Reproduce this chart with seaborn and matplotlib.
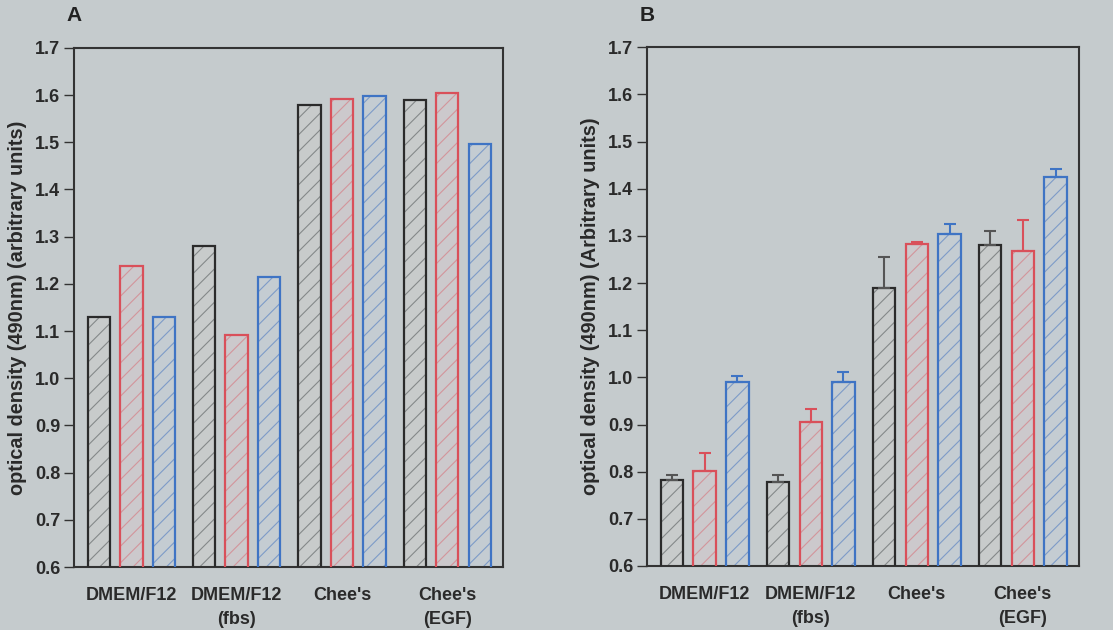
import matplotlib
matplotlib.use("Agg")
import matplotlib.pyplot as plt
import seaborn as sns
import pandas as pd

# ---------------- data ----------------
media = ["DMEM/F12", "DMEM/F12\n(fbs)", "Chee's", "Chee's\n(EGF)"]
series = ["S1", "S2", "S3"]

a_s1 = [1.13, 1.28, 1.58, 1.59]
a_s2 = [1.238, 1.092, 1.592, 1.604]
a_s3 = [1.13, 1.215, 1.599, 1.497]

b_s1 = [0.782, 0.779, 1.190, 1.280]
b_s2 = [0.801, 0.905, 1.283, 1.269]
b_s3 = [0.990, 0.991, 1.303, 1.425]

b_err_s1 = [0.010, 0.014, 0.065, 0.030]
b_err_s2 = [0.039, 0.027, 0.003, 0.065]
b_err_s3 = [0.012, 0.020, 0.022, 0.016]

yticks = [0.6, 0.7, 0.8, 0.9, 1.0, 1.1, 1.2, 1.3, 1.4, 1.5, 1.6, 1.7]

# ---------------- style ----------------
bg = "#c5cbcd"
fills = ["#c8cbcb", "#ccc8cc", "#c2ccd4"]
edges = ["#2b2b2b", "#d9505a", "#3f74c4"]
hatch_cols = ["#85898a", "#d3959b", "#7d9bc8"]
err_cols = ["#555555", "#d9505a", "#3f74c4"]

sns.set_style("ticks")
plt.rcParams["font.family"] = ["Liberation Sans", "DejaVu Sans"]
plt.rcParams["font.weight"] = "bold"
plt.rcParams["axes.labelweight"] = "bold"
plt.rcParams["hatch.linewidth"] = 0.8


def make_df(s1, s2, s3):
    rows = []
    for vals, s in zip([s1, s2, s3], series):
        for m, v in zip(media, vals):
            rows.append({"medium": m, "series": s, "od": v})
    return pd.DataFrame(rows)


def draw_panel(ax, df, errs, ylabel, letter):
    ax.set_facecolor(bg)
    n0 = len(ax.containers)
    sns.barplot(data=df, x="medium", y="od", hue="series", order=media,
                hue_order=series, palette=fills, width=0.925, gap=0.31,
                errorbar=None, legend=False, ax=ax, zorder=2)
    for cont, hc in zip(ax.containers[n0:], hatch_cols):
        for p in cont.patches:
            p.set_hatch("//")
            p.set_edgecolor(hc)
            p.set_linewidth(0)
    n1 = len(ax.containers)
    sns.barplot(data=df, x="medium", y="od", hue="series", order=media,
                hue_order=series, palette=edges, width=0.925, gap=0.31,
                errorbar=None, legend=False, fill=False, linewidth=1.6,
                ax=ax, zorder=3)
    conts = ax.containers[n1:]
    for cont, ec in zip(conts, edges):
        for p in cont.patches:
            p.set_edgecolor(ec)
            p.set_facecolor("none")
            p.set_linewidth(1.6)
    if errs is not None:
        for cont, e, c in zip(conts, errs, err_cols):
            xs = [p.get_x() + p.get_width() / 2 for p in cont.patches]
            ys = [p.get_height() for p in cont.patches]
            ax.errorbar(xs, ys, yerr=[[0] * len(e), e], fmt="none",
                        ecolor=c, elinewidth=1.5, capsize=4.5,
                        capthick=1.5, zorder=4)
    ax.set_ylim(0.6, 1.7)
    ax.set_xlim(-0.545, 3.53)
    ax.set_yticks(yticks)
    ax.set_yticklabels([f"{t:.1f}" for t in yticks])
    ax.tick_params(axis="y", direction="out", length=7, width=1,
                   colors="#333333", labelcolor="#2a2a2a", labelsize=13, pad=3)
    ax.tick_params(axis="x", length=0, labelsize=13, labelcolor="#2a2a2a",
                   pad=14.5)
    for lab in ax.get_xticklabels() + ax.get_yticklabels():
        lab.set_fontweight("bold")
    for lab in ax.get_xticklabels():
        lab.set_linespacing(1.5)
    ax.set_xlabel("")
    ax.set_ylabel(ylabel, fontsize=14.3, color="#2a2a2a", labelpad=6)
    for sp in ax.spines.values():
        sp.set_visible(True)
        sp.set_linewidth(1.5)
        sp.set_color("#333333")
    ax.text(-0.018, 1.062, letter, transform=ax.transAxes, fontsize=15,
            fontweight="bold", color="#222222", ha="left", va="center")


fig = plt.figure(figsize=(11.13, 6.30), dpi=100, facecolor=bg)
axA = fig.add_axes([0.0665, 0.100, 0.3855, 0.824])
axB = fig.add_axes([0.5813, 0.1016, 0.3882, 0.8234])

draw_panel(axA, make_df(a_s1, a_s2, a_s3), None,
           "optical density (490nm) (arbitrary units)", "A")
draw_panel(axB, make_df(b_s1, b_s2, b_s3), [b_err_s1, b_err_s2, b_err_s3],
           "optical density (490nm) (Arbitrary units)", "B")

fig.savefig("out.png", dpi=100, facecolor=bg)
